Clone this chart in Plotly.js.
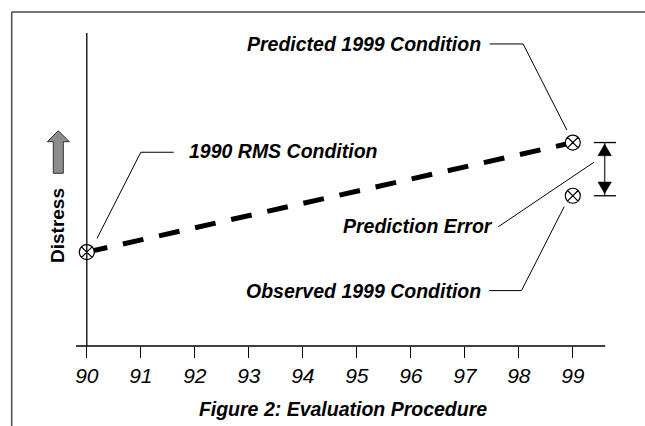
<!DOCTYPE html>
<html>
<head>
<meta charset="utf-8">
<script src="https://cdn.plot.ly/plotly-3.0.1.min.js"></script>
<style>html,body{margin:0;padding:0;background:#fff;}#chart{width:645px;height:426px;}</style>
</head>
<body>
<div id="chart"></div>
<script>
// ---- data ----
const years = [90, 91, 92, 93, 94, 95, 96, 97, 98, 99];
const yearLabels = ['90', '91', '92', '93', '94', '95', '96', '97', '98', '99'];
const startYear = 90;
const endYear = 99;
const rms1990 = 3.0;        // 1990 RMS condition (distress)
const predicted1999 = 6.5;  // predicted 1999 condition
const observed1999 = 4.8;   // observed 1999 condition

// ---- layout helpers ----
const M = {l: 76, r: 2, t: 33, b: 80};
const W = 645, H = 426;
const xr = [89.8, 100.3], yr = [0, 10];
const pw = W - M.l - M.r, ph = H - M.t - M.b;
const pX = p => (p - M.l) / pw;           // pixel -> paper
const pY = p => (H - M.b - p) / ph;
const dX = v => (v - xr[0]) / (xr[1] - xr[0]); // data -> paper

const FONT = 'Liberation Sans, Arial, sans-serif';
const lblFont = {family: FONT, size: 19.5, color: '#000', weight: 'bold', style: 'italic'};

const traces = [
  {x: [startYear, endYear], y: [rms1990, predicted1999], mode: 'lines',
   line: {color: '#000', width: 5, dash: '21px,16px'}, hoverinfo: 'skip'},
  {x: [startYear, endYear, endYear], y: [rms1990, predicted1999, observed1999], mode: 'markers',
   marker: {symbol: 'circle-x', size: 15, color: '#fff', line: {color: '#000', width: 1.2}},
   hoverinfo: 'skip'}
];

const errX = endYear + 0.59;
const shapes = [
  // frame (top and left edges)
  {type: 'line', xref: 'paper', yref: 'paper', x0: pX(11.7), x1: pX(660), y0: pY(12), y1: pY(12),
   line: {color: '#4a4a4a', width: 1.5}},
  {type: 'line', xref: 'paper', yref: 'paper', x0: pX(11.7), x1: pX(11.7), y0: pY(12), y1: pY(440),
   line: {color: '#4a4a4a', width: 1.5}},
  // y axis line
  {type: 'line', xref: 'x', yref: 'paper', x0: startYear, x1: startYear, y0: 0, y1: 1,
   line: {color: '#000', width: 1.3}},
  // x axis line
  {type: 'line', xref: 'paper', yref: 'paper', x0: 0, x1: dX(99.6), y0: 0, y1: 0,
   line: {color: '#000', width: 1.3}},
  // distress arrow
  {type: 'path', xref: 'paper', yref: 'paper',
   path: `M${pX(58.3)},${pY(130.7)} L${pX(69.3)},${pY(141.7)} L${pX(63.3)},${pY(141.7)} L${pX(63.3)},${pY(173.3)} L${pX(53.3)},${pY(173.3)} L${pX(53.3)},${pY(141.7)} L${pX(47.3)},${pY(141.7)} Z`,
   fillcolor: '#8c8c8c', line: {color: '#333', width: 1}},
  // leader: predicted
  {type: 'path', xref: 'x', yref: 'y',
   path: `M97.46,9.65 L98.08,9.65 L98.89,${predicted1999 + 0.4}`,
   line: {color: '#000', width: 1}},
  // leader: 1990
  {type: 'path', xref: 'x', yref: 'y',
   path: `M91.61,6.19 L91.0,6.19 L90.19,${rms1990 + 0.44}`,
   line: {color: '#000', width: 1}},
  // leader: prediction error
  {type: 'path', xref: 'x', yref: 'y',
   path: `M97.62,3.81 L99.39,5.87`,
   line: {color: '#000', width: 1}},
  // leader: observed
  {type: 'path', xref: 'x', yref: 'y',
   path: `M97.45,1.77 L98.05,1.77 L98.84,${observed1999 - 0.35}`,
   line: {color: '#000', width: 1}},
  // error bar: vertical
  {type: 'line', xref: 'x', yref: 'y', x0: errX, x1: errX, y0: observed1999, y1: predicted1999,
   line: {color: '#444', width: 1.5}},
  // caps
  {type: 'line', xref: 'x', yref: 'y', x0: errX - 0.2, x1: errX + 0.21, y0: predicted1999, y1: predicted1999,
   line: {color: '#000', width: 1.3}},
  {type: 'line', xref: 'x', yref: 'y', x0: errX - 0.2, x1: errX + 0.21, y0: observed1999, y1: observed1999,
   line: {color: '#000', width: 1.3}},
  // arrowheads
  {type: 'path', xref: 'x', yref: 'y',
   path: `M${errX},${predicted1999 - 0.05} L${errX + 0.125},${predicted1999 - 0.42} L${errX - 0.125},${predicted1999 - 0.42} Z`,
   fillcolor: '#000', line: {color: '#000', width: 0.5}},
  {type: 'path', xref: 'x', yref: 'y',
   path: `M${errX},${observed1999 + 0.07} L${errX + 0.125},${observed1999 + 0.44} L${errX - 0.125},${observed1999 + 0.44} Z`,
   fillcolor: '#000', line: {color: '#000', width: 0.5}}
];

const annotations = [
  {text: 'Predicted 1999 Condition', x: 97.31, y: 9.66, xref: 'x', yref: 'y',
   xanchor: 'right', yanchor: 'middle', showarrow: false, font: lblFont, borderpad: 0},
  {text: '1990 RMS Condition', x: 91.88, y: 6.23, xref: 'x', yref: 'y',
   xanchor: 'left', yanchor: 'middle', showarrow: false, font: lblFont, borderpad: 0},
  {text: 'Prediction Error', x: 97.54, y: 3.84, xref: 'x', yref: 'y',
   xanchor: 'right', yanchor: 'middle', showarrow: false, font: lblFont, borderpad: 0},
  {text: 'Observed 1999 Condition', x: 97.32, y: 1.77, xref: 'x', yref: 'y',
   xanchor: 'right', yanchor: 'middle', showarrow: false, font: lblFont, borderpad: 0},
  {text: 'Distress', x: pX(57.3), y: pY(225.7), xref: 'paper', yref: 'paper', textangle: -90,
   xanchor: 'center', yanchor: 'middle', showarrow: false, borderpad: 0,
   font: {family: FONT, size: 19, color: '#000', weight: 'bold'}}
];

const layout = {
  width: W, height: H,
  margin: M,
  paper_bgcolor: '#fff', plot_bgcolor: 'rgba(0,0,0,0)',
  showlegend: false,
  title: {text: 'Figure 2: Evaluation Procedure', xref: 'container', yref: 'container',
          x: 343 / W, xanchor: 'center', y: 1 - 409 / H, yanchor: 'middle',
          font: {family: FONT, size: 19.5, color: '#000', weight: 'bold', style: 'italic'}},
  xaxis: {range: xr, tickvals: years, ticktext: yearLabels, showgrid: false, zeroline: false,
          showline: false, ticks: 'outside', ticklen: 11, tickwidth: 1.3, tickcolor: '#000',
          tickfont: {family: FONT, size: 21, color: '#000', style: 'italic'}, fixedrange: true},
  yaxis: {range: yr, visible: false, showgrid: false, zeroline: false, fixedrange: true},
  shapes: shapes,
  annotations: annotations
};

Plotly.newPlot('chart', traces, layout, {staticPlot: true, displayModeBar: false});
</script>
</body>
</html>
